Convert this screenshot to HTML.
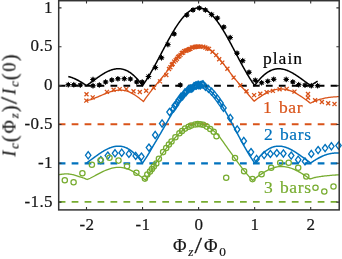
<!DOCTYPE html><html><head><meta charset="utf-8"><title>chart</title><style>
html,body{margin:0;padding:0;background:#fff}body{width:342px;height:259px;position:relative;overflow:hidden;font-family:"Liberation Serif",serif;color:#161616;-webkit-text-stroke:0.2px currentColor}
.t{position:absolute;white-space:nowrap;line-height:1;will-change:transform;font-size:17px;letter-spacing:0.4px}
.yt{text-align:right;width:50px;left:3.2px}
.xt{text-align:center;width:40px}
sub{font-size:0.72em;vertical-align:baseline;position:relative;top:0.27em;line-height:0}
.lb{font-size:17.5px;letter-spacing:0.65px;word-spacing:1.5px}i{font-style:italic}.sl{display:inline-block;transform:scale(1.45,1.3);transform-origin:50% 68%;margin:0 1.2px}.pa{display:inline-block;transform:scale(1.1,1.18);transform-origin:50% 60%}
</style></head><body>
<svg width="342" height="259" viewBox="0 0 342 259" style="position:absolute;left:0;top:0">
<rect x="0" y="0" width="342" height="259" fill="#fff"/>
<defs><clipPath id="c"><rect x="58.7" y="0.7" width="280.5" height="209.2"/></clipPath></defs>
<g clip-path="url(#c)" fill="none" stroke-linejoin="round">
<path d="M58.7 85.75 H339.2" stroke="#000000" stroke-width="1.8" stroke-dasharray="6.75 6.2"/>
<path d="M58.7 124.3 H339.2" stroke="#D95319" stroke-width="1.9" stroke-dasharray="6.75 6.2"/>
<path d="M58.7 163.35 H339.2" stroke="#0072BD" stroke-width="2.3" stroke-dasharray="6.75 6.2"/>
<path d="M58.7 201.9 H339.2" stroke="#77AC30" stroke-width="1.9" stroke-dasharray="6.75 6.2"/>
<path d="M68.30 76.54 L68.80 76.66 L69.30 76.79 L69.80 76.94 L70.30 77.08 L70.80 77.24 L71.30 77.41 L71.80 77.58 L72.30 77.76 L72.80 77.95 L73.30 78.14 L73.80 78.35 L74.30 78.56 L74.80 78.77 L75.30 79.00 L75.80 79.23 L76.30 79.47 L76.80 79.71 L77.30 79.97 L77.80 80.22 L78.30 80.49 L78.80 80.76 L79.30 81.04 L79.80 81.32 L80.30 81.61 L80.80 81.90 L81.30 82.20 L81.80 82.51 L82.30 82.82 L82.80 83.14 L83.30 83.46 L83.80 83.78 L84.30 84.11 L84.80 84.44 L85.30 84.78 L85.80 85.12 L86.30 85.46 L86.50 85.60 L86.80 85.39 L87.30 85.04 L87.80 84.69 L88.30 84.33 L88.80 83.98 L89.30 83.62 L89.80 83.26 L90.30 82.89 L90.80 82.53 L91.30 82.17 L91.80 81.80 L92.30 81.44 L92.80 81.07 L93.30 80.70 L93.80 80.34 L94.30 79.97 L94.80 79.61 L95.30 79.25 L95.80 78.89 L96.30 78.53 L96.80 78.17 L97.30 77.81 L97.80 77.46 L98.30 77.11 L98.80 76.77 L99.30 76.42 L99.80 76.09 L100.30 75.75 L100.80 75.42 L101.30 75.09 L101.80 74.77 L102.30 74.46 L102.80 74.15 L103.30 73.84 L103.80 73.54 L104.30 73.25 L104.80 72.97 L105.30 72.69 L105.80 72.42 L106.30 72.15 L106.80 71.90 L107.30 71.65 L107.80 71.41 L108.30 71.18 L108.80 70.95 L109.30 70.74 L109.80 70.54 L110.30 70.34 L110.80 70.16 L111.30 69.98 L111.80 69.82 L112.30 69.67 L112.80 69.52 L113.30 69.39 L113.80 69.27 L114.30 69.16 L114.80 69.06 L115.30 68.98 L115.80 68.90 L116.30 68.84 L116.80 68.79 L117.30 68.76 L117.80 68.74 L118.30 68.73 L118.80 68.73 L119.30 68.75 L119.80 68.78 L120.30 68.82 L120.80 68.88 L121.30 68.95 L121.80 69.03 L122.30 69.13 L122.80 69.25 L123.30 69.38 L123.80 69.52 L124.30 69.68 L124.80 69.85 L125.30 70.04 L125.80 70.24 L126.30 70.46 L126.80 70.69 L127.30 70.94 L127.80 71.20 L128.30 71.48 L128.80 71.77 L129.30 72.08 L129.80 72.40 L130.30 72.74 L130.80 73.09 L131.30 73.46 L131.80 73.84 L132.30 74.24 L132.80 74.65 L133.30 75.08 L133.80 75.53 L134.30 75.98 L134.80 76.46 L135.30 76.95 L135.80 77.45 L136.30 77.97 L136.80 78.50 L137.30 79.04 L137.80 79.60 L138.30 80.18 L138.80 80.76 L139.30 81.37 L139.80 81.98 L140.30 82.61 L140.80 83.25 L141.30 83.91 L141.80 84.57 L142.30 85.26 L142.55 85.60 L142.80 85.25 L143.30 84.55 L143.80 83.83 L144.30 83.10 L144.80 82.36 L145.30 81.61 L145.80 80.84 L146.30 80.07 L146.80 79.29 L147.30 78.49 L147.80 77.69 L148.30 76.87 L148.80 76.05 L149.30 75.22 L149.80 74.37 L150.30 73.52 L150.80 72.67 L151.30 71.80 L151.80 70.93 L152.30 70.04 L152.80 69.16 L153.30 68.26 L153.80 67.36 L154.30 66.45 L154.80 65.54 L155.30 64.62 L155.80 63.70 L156.30 62.78 L156.80 61.85 L157.30 60.91 L157.80 59.97 L158.30 59.03 L158.80 58.09 L159.30 57.15 L159.80 56.20 L160.30 55.25 L160.80 54.30 L161.30 53.35 L161.80 52.40 L162.30 51.45 L162.80 50.51 L163.30 49.56 L163.80 48.61 L164.30 47.67 L164.80 46.73 L165.30 45.79 L165.80 44.85 L166.30 43.92 L166.80 42.99 L167.30 42.07 L167.80 41.15 L168.30 40.23 L168.80 39.32 L169.30 38.42 L169.80 37.52 L170.30 36.63 L170.80 35.75 L171.30 34.88 L171.80 34.01 L172.30 33.15 L172.80 32.30 L173.30 31.46 L173.80 30.63 L174.30 29.81 L174.80 28.99 L175.30 28.19 L175.80 27.40 L176.30 26.62 L176.80 25.86 L177.30 25.10 L177.80 24.36 L178.30 23.63 L178.80 22.91 L179.30 22.21 L179.80 21.52 L180.30 20.84 L180.80 20.18 L181.30 19.53 L181.80 18.90 L182.30 18.28 L182.80 17.68 L183.30 17.10 L183.80 16.53 L184.30 15.97 L184.80 15.44 L185.30 14.92 L185.80 14.41 L186.30 13.93 L186.80 13.46 L187.30 13.01 L187.80 12.58 L188.30 12.16 L188.80 11.77 L189.30 11.39 L189.80 11.03 L190.30 10.69 L190.80 10.37 L191.30 10.07 L191.80 9.79 L192.30 9.52 L192.80 9.28 L193.30 9.06 L193.80 8.85 L194.30 8.67 L194.80 8.51 L195.30 8.36 L195.80 8.24 L196.30 8.13 L196.80 8.05 L197.30 7.99 L197.80 7.95 L198.30 7.92 L198.80 7.92 L199.30 7.94 L199.80 7.98 L200.30 8.04 L200.80 8.12 L201.30 8.22 L201.80 8.34 L202.30 8.48 L202.80 8.64 L203.30 8.82 L203.80 9.02 L204.30 9.23 L204.80 9.47 L205.30 9.73 L205.80 10.01 L206.30 10.31 L206.80 10.63 L207.30 10.96 L207.80 11.32 L208.30 11.69 L208.80 12.08 L209.30 12.49 L209.80 12.92 L210.30 13.37 L210.80 13.83 L211.30 14.32 L211.80 14.82 L212.30 15.33 L212.80 15.87 L213.30 16.42 L213.80 16.98 L214.30 17.56 L214.80 18.16 L215.30 18.78 L215.80 19.41 L216.30 20.05 L216.80 20.71 L217.30 21.38 L217.80 22.07 L218.30 22.77 L218.80 23.48 L219.30 24.21 L219.80 24.95 L220.30 25.70 L220.80 26.47 L221.30 27.25 L221.80 28.03 L222.30 28.83 L222.80 29.64 L223.30 30.46 L223.80 31.29 L224.30 32.13 L224.80 32.98 L225.30 33.84 L225.80 34.70 L226.30 35.58 L226.80 36.46 L227.30 37.35 L227.80 38.24 L228.30 39.14 L228.80 40.05 L229.30 40.96 L229.80 41.88 L230.30 42.80 L230.80 43.73 L231.30 44.66 L231.80 45.60 L232.30 46.54 L232.80 47.48 L233.30 48.42 L233.80 49.37 L234.30 50.32 L234.80 51.26 L235.30 52.21 L235.80 53.16 L236.30 54.11 L236.80 55.06 L237.30 56.01 L237.80 56.96 L238.30 57.90 L238.80 58.85 L239.30 59.79 L239.80 60.72 L240.30 61.66 L240.80 62.59 L241.30 63.52 L241.80 64.44 L242.30 65.36 L242.80 66.27 L243.30 67.18 L243.80 68.08 L244.30 68.98 L244.80 69.87 L245.30 70.75 L245.80 71.62 L246.30 72.49 L246.80 73.35 L247.30 74.21 L247.80 75.05 L248.30 75.88 L248.80 76.71 L249.30 77.53 L249.80 78.33 L250.30 79.13 L250.80 79.92 L251.30 80.69 L251.80 81.46 L252.30 82.21 L252.80 82.95 L253.30 83.68 L253.80 84.40 L254.30 85.11 L254.65 85.60 L254.80 85.39 L255.30 84.71 L255.80 84.04 L256.30 83.38 L256.80 82.74 L257.30 82.11 L257.80 81.49 L258.30 80.88 L258.80 80.29 L259.30 79.72 L259.80 79.15 L260.30 78.60 L260.80 78.07 L261.30 77.55 L261.80 77.05 L262.30 76.55 L262.80 76.08 L263.30 75.62 L263.80 75.17 L264.30 74.74 L264.80 74.32 L265.30 73.92 L265.80 73.53 L266.30 73.16 L266.80 72.81 L267.30 72.47 L267.80 72.14 L268.30 71.83 L268.80 71.53 L269.30 71.25 L269.80 70.99 L270.30 70.74 L270.80 70.50 L271.30 70.28 L271.80 70.08 L272.30 69.89 L272.80 69.71 L273.30 69.55 L273.80 69.40 L274.30 69.27 L274.80 69.16 L275.30 69.05 L275.80 68.96 L276.30 68.89 L276.80 68.83 L277.30 68.78 L277.80 68.75 L278.30 68.73 L278.80 68.73 L279.30 68.73 L279.80 68.75 L280.30 68.79 L280.80 68.83 L281.30 68.89 L281.80 68.96 L282.30 69.05 L282.80 69.14 L283.30 69.25 L283.80 69.37 L284.30 69.50 L284.80 69.64 L285.30 69.79 L285.80 69.95 L286.30 70.12 L286.80 70.30 L287.30 70.50 L287.80 70.70 L288.30 70.91 L288.80 71.13 L289.30 71.36 L289.80 71.60 L290.30 71.85 L290.80 72.10 L291.30 72.36 L291.80 72.63 L292.30 72.91 L292.80 73.19 L293.30 73.48 L293.80 73.78 L294.30 74.09 L294.80 74.39 L295.30 74.71 L295.80 75.03 L296.30 75.35 L296.80 75.68 L297.30 76.02 L297.80 76.36 L298.30 76.70 L298.80 77.04 L299.30 77.39 L299.80 77.74 L300.30 78.10 L300.80 78.46 L301.30 78.81 L301.80 79.18 L302.30 79.54 L302.80 79.90 L303.30 80.27 L303.80 80.63 L304.30 81.00 L304.80 81.36 L305.30 81.73 L305.80 82.09 L306.30 82.46 L306.80 82.82 L307.30 83.18 L307.80 83.55 L308.30 83.91 L308.80 84.26 L309.30 84.62 L309.80 84.97 L310.30 85.32 L310.70 85.60 L310.80 85.53 L311.30 85.19 L311.80 84.85 L312.30 84.51 L312.80 84.17 L313.30 83.85 L313.80 83.52 L314.30 83.20 L314.80 82.88 L315.30 82.57 L315.80 82.27 L316.30 81.96 L316.80 81.67 L317.30 81.38 L317.60 81.21" stroke="#000000" stroke-width="1.5"/>
<path d="M86.60 100.50 L88.02 100.28 L89.44 99.93 L90.86 99.51 L92.28 99.04 L93.70 98.52 L95.12 97.97 L96.54 97.40 L97.96 96.81 L99.38 96.20 L100.80 95.59 L102.22 94.98 L103.64 94.38 L105.06 93.79 L106.48 93.22 L107.90 92.67 L109.32 92.17 L110.74 91.70 L112.16 91.28 L113.58 90.91 L115.00 90.61 L116.42 90.37 L117.84 90.20 L119.26 90.11 L120.68 90.10 L122.10 90.18 L123.52 90.35 L124.94 90.61 L126.36 90.97 L127.78 91.42 L129.20 91.96 L130.62 92.59 L132.04 93.31 L133.46 94.11 L134.88 95.00 L136.30 95.95 L137.72 96.97 L139.14 98.05 L140.56 99.17 L141.98 100.32 L143.40 101.50 L143.91 100.80 L144.58 99.86 L145.37 98.74 L146.26 97.49 L147.21 96.18 L148.17 94.86 L149.11 93.58 L150.00 92.40 L150.85 91.30 L151.70 90.22 L152.55 89.16 L153.41 88.09 L154.28 87.03 L155.17 85.94 L156.07 84.84 L157.00 83.70 L157.97 82.51 L159.00 81.28 L160.05 80.01 L161.12 78.74 L162.17 77.47 L163.18 76.23 L164.13 75.03 L165.00 73.90 L165.78 72.83 L166.48 71.81 L167.12 70.82 L167.73 69.87 L168.31 68.94 L168.89 68.02 L169.48 67.11 L170.10 66.20 L170.74 65.29 L171.37 64.39 L172.01 63.50 L172.64 62.62 L173.28 61.76 L173.92 60.92 L174.56 60.10 L175.20 59.30 L175.85 58.52 L176.50 57.74 L177.15 56.99 L177.80 56.25 L178.45 55.54 L179.10 54.86 L179.75 54.21 L180.40 53.60 L181.04 53.03 L181.68 52.50 L182.32 52.00 L182.96 51.53 L183.59 51.09 L184.23 50.67 L184.86 50.28 L185.50 49.90 L186.14 49.55 L186.78 49.23 L187.41 48.93 L188.05 48.66 L188.69 48.40 L189.32 48.16 L189.96 47.93 L190.60 47.70 L191.24 47.48 L191.88 47.27 L192.53 47.08 L193.17 46.90 L193.81 46.73 L194.45 46.58 L195.08 46.43 L195.70 46.30 L196.31 46.17 L196.91 46.04 L197.50 45.92 L198.08 45.81 L198.67 45.72 L199.26 45.67 L199.87 45.66 L200.50 45.70 L201.15 45.79 L201.81 45.93 L202.49 46.10 L203.18 46.31 L203.87 46.55 L204.56 46.82 L205.24 47.10 L205.90 47.40 L206.55 47.72 L207.19 48.05 L207.83 48.42 L208.46 48.80 L209.09 49.21 L209.72 49.65 L210.36 50.11 L211.00 50.60 L211.65 51.12 L212.30 51.68 L212.95 52.27 L213.60 52.89 L214.25 53.52 L214.90 54.17 L215.55 54.83 L216.20 55.50 L216.84 56.18 L217.48 56.87 L218.12 57.58 L218.76 58.31 L219.39 59.04 L220.03 59.79 L220.66 60.54 L221.30 61.30 L221.94 62.07 L222.58 62.85 L223.21 63.64 L223.85 64.44 L224.49 65.24 L225.13 66.06 L225.76 66.88 L226.40 67.70 L227.03 68.52 L227.64 69.34 L228.25 70.17 L228.86 71.00 L229.48 71.84 L230.13 72.71 L230.80 73.59 L231.50 74.50 L232.24 75.43 L232.99 76.39 L233.77 77.35 L234.57 78.34 L235.39 79.35 L236.24 80.38 L237.11 81.43 L238.00 82.50 L238.93 83.60 L239.89 84.73 L240.89 85.89 L241.90 87.06 L242.93 88.25 L243.96 89.44 L244.98 90.62 L246.00 91.80 L247.06 93.03 L248.21 94.36 L249.39 95.73 L250.55 97.08 L251.65 98.36 L252.64 99.51 L253.47 100.47 L254.10 101.20 L255.51 100.13 L256.92 99.09 L258.32 98.09 L259.73 97.11 L261.14 96.17 L262.55 95.27 L263.95 94.41 L265.36 93.60 L266.77 92.85 L268.18 92.15 L269.58 91.51 L270.99 90.94 L272.40 90.43 L273.81 90.00 L275.21 89.64 L276.62 89.36 L278.03 89.15 L279.44 89.03 L280.84 88.98 L282.25 89.02 L283.66 89.14 L285.06 89.33 L286.47 89.60 L287.88 89.95 L289.29 90.38 L290.69 90.88 L292.10 91.44 L293.51 92.07 L294.92 92.77 L296.32 93.52 L297.73 94.33 L299.14 95.19 L300.55 96.09 L301.95 97.03 L303.36 98.01 L304.77 99.01 L306.18 100.04 L307.58 101.08 L308.99 102.14 L310.40 103.20 L310.83 102.99 L311.40 102.71 L312.07 102.38 L312.82 102.01 L313.62 101.63 L314.44 101.25 L315.24 100.90 L316.00 100.60 L316.72 100.33 L317.42 100.09 L318.13 99.85 L318.85 99.63 L319.59 99.42 L320.35 99.21 L321.15 99.01 L322.00 98.80 L322.90 98.59 L323.84 98.39 L324.81 98.18 L325.81 97.98 L326.84 97.79 L327.88 97.61 L328.94 97.45 L330.00 97.30 L331.14 97.17 L332.39 97.05 L333.70 96.95 L335.00 96.86 L336.24 96.78 L337.36 96.71 L338.30 96.65 L339.00 96.60" stroke="#D95319" stroke-width="1.3"/>
<path d="M86.20 162.79 L86.50 163.00 L86.70 162.86 L87.20 162.51 L87.70 162.16 L88.20 161.81 L88.70 161.45 L89.20 161.09 L89.70 160.73 L90.20 160.37 L90.70 160.00 L91.20 159.64 L91.70 159.27 L92.20 158.91 L92.70 158.54 L93.20 158.18 L93.70 157.81 L94.20 157.45 L94.70 157.08 L95.20 156.72 L95.70 156.36 L96.20 156.00 L96.70 155.64 L97.20 155.29 L97.70 154.93 L98.20 154.58 L98.70 154.24 L99.20 153.89 L99.70 153.55 L100.20 153.22 L100.70 152.89 L101.20 152.56 L101.70 152.24 L102.20 151.92 L102.70 151.61 L103.20 151.30 L103.70 151.00 L104.20 150.71 L104.70 150.42 L105.20 150.14 L105.70 149.87 L106.20 149.60 L106.70 149.35 L107.20 149.10 L107.70 148.86 L108.20 148.62 L108.70 148.40 L109.20 148.18 L109.70 147.98 L110.20 147.78 L110.70 147.59 L111.20 147.42 L111.70 147.25 L112.20 147.10 L112.70 146.95 L113.20 146.82 L113.70 146.69 L114.20 146.58 L114.70 146.48 L115.20 146.39 L115.70 146.32 L116.20 146.25 L116.70 146.20 L117.20 146.17 L117.70 146.14 L118.20 146.13 L118.70 146.13 L119.20 146.14 L119.70 146.17 L120.20 146.21 L120.70 146.26 L121.20 146.33 L121.70 146.42 L122.20 146.51 L122.70 146.62 L123.20 146.75 L123.70 146.89 L124.20 147.04 L124.70 147.21 L125.20 147.40 L125.70 147.60 L126.20 147.81 L126.70 148.04 L127.20 148.29 L127.70 148.54 L128.20 148.82 L128.70 149.11 L129.20 149.41 L129.70 149.73 L130.20 150.07 L130.70 150.42 L131.20 150.78 L131.70 151.16 L132.20 151.56 L132.70 151.97 L133.20 152.40 L133.70 152.84 L134.20 153.29 L134.70 153.76 L135.20 154.25 L135.70 154.75 L136.20 155.26 L136.70 155.79 L137.20 156.33 L137.70 156.89 L138.20 157.46 L138.70 158.05 L139.20 158.64 L139.70 159.26 L140.20 159.88 L140.70 160.52 L141.20 161.17 L141.70 161.84 L142.20 162.52 L142.55 163.00 L142.70 162.79 L143.20 162.09 L143.70 161.37 L144.20 160.65 L144.70 159.91 L145.20 159.16 L145.70 158.40 L146.20 157.63 L146.70 156.84 L147.20 156.05 L147.70 155.25 L148.20 154.44 L148.70 153.61 L149.20 152.78 L149.70 151.94 L150.20 151.09 L150.70 150.24 L151.20 149.37 L151.70 148.50 L152.20 147.62 L152.70 146.73 L153.20 145.84 L153.70 144.94 L154.25 144.04 L154.80 143.12 L155.36 142.21 L155.91 141.29 L156.46 140.36 L157.02 139.43 L157.57 138.50 L158.12 137.56 L158.67 136.62 L159.22 135.68 L159.77 134.73 L160.32 133.79 L160.87 132.84 L161.42 131.89 L161.97 130.94 L162.52 129.99 L163.06 129.04 L163.61 128.10 L164.15 127.15 L164.70 126.20 L165.24 125.26 L165.78 124.31 L166.32 123.37 L166.85 122.44 L167.39 121.50 L167.93 120.58 L168.46 119.65 L168.99 118.73 L169.52 117.81 L170.05 116.90 L170.58 116.00 L171.11 115.10 L171.63 114.21 L172.16 113.33 L172.68 112.45 L173.20 111.58 L173.72 110.72 L174.23 109.87 L174.75 109.03 L175.26 108.19 L175.77 107.37 L176.28 106.56 L176.79 105.75 L177.29 104.96 L177.80 104.18 L178.30 103.41 L178.80 102.65 L179.30 101.91 L179.79 101.17 L180.29 100.45 L180.78 99.75 L181.27 99.06 L181.76 98.38 L182.25 97.71 L182.74 97.06 L183.22 96.43 L183.70 95.81 L184.18 95.20 L184.66 94.61 L185.14 94.04 L185.62 93.48 L186.09 92.94 L186.56 92.42 L187.03 91.91 L187.50 91.42 L187.97 90.95 L188.44 90.50 L188.90 90.06 L189.37 89.65 L189.83 89.25 L190.29 88.86 L190.75 88.50 L191.21 88.16 L191.66 87.83 L192.12 87.53 L192.58 87.24 L193.03 86.98 L193.48 86.73 L193.94 86.50 L194.39 86.29 L194.84 86.11 L195.29 85.94 L195.74 85.79 L196.19 85.66 L196.64 85.55 L197.08 85.47 L197.53 85.40 L197.98 85.35 L198.42 85.33 L198.87 85.32 L199.32 85.33 L199.76 85.37 L200.21 85.42 L200.70 85.50 L201.20 85.59 L201.70 85.71 L202.20 85.85 L202.70 86.00 L203.20 86.18 L203.70 86.37 L204.20 86.59 L204.70 86.82 L205.20 87.08 L205.70 87.35 L206.20 87.65 L206.70 87.96 L207.20 88.29 L207.70 88.64 L208.20 89.01 L208.70 89.40 L209.20 89.81 L209.70 90.24 L210.20 90.68 L210.70 91.14 L211.20 91.62 L211.70 92.11 L212.20 92.63 L212.70 93.16 L213.20 93.70 L213.70 94.27 L214.20 94.85 L214.70 95.44 L215.20 96.05 L215.70 96.68 L216.20 97.32 L216.70 97.98 L217.20 98.65 L217.70 99.33 L218.20 100.03 L218.70 100.74 L219.20 101.47 L219.70 102.20 L220.20 102.95 L220.70 103.72 L221.20 104.49 L221.70 105.28 L222.20 106.07 L222.70 106.88 L223.20 107.70 L223.70 108.52 L224.20 109.36 L224.70 110.21 L225.20 111.06 L225.70 111.93 L226.20 112.80 L226.70 113.68 L227.20 114.57 L227.70 115.46 L228.20 116.36 L228.70 117.27 L229.20 118.18 L229.70 119.10 L230.20 120.02 L230.70 120.95 L231.20 121.88 L231.70 122.81 L232.20 123.75 L232.70 124.69 L233.20 125.63 L233.70 126.58 L234.20 127.53 L234.70 128.47 L235.20 129.42 L235.70 130.37 L236.20 131.32 L236.70 132.27 L237.20 133.22 L237.70 134.17 L238.20 135.11 L238.70 136.06 L239.20 137.00 L239.70 137.94 L240.20 138.87 L240.70 139.80 L241.20 140.73 L241.70 141.66 L242.20 142.58 L242.70 143.49 L243.20 144.40 L243.70 145.30 L244.20 146.20 L244.70 147.09 L245.20 147.97 L245.70 148.85 L246.20 149.72 L246.70 150.58 L247.20 151.44 L247.70 152.28 L248.20 153.12 L248.70 153.94 L249.20 154.76 L249.70 155.57 L250.20 156.37 L250.70 157.16 L251.20 157.94 L251.70 158.70 L252.20 159.46 L252.70 160.21 L253.20 160.94 L253.70 161.66 L254.20 162.37 L254.65 163.00 L254.70 162.93 L255.20 162.25 L255.70 161.57 L256.20 160.91 L256.70 160.27 L257.20 159.63 L257.70 159.01 L258.20 158.40 L258.70 157.81 L259.20 157.23 L259.70 156.67 L260.20 156.11 L260.70 155.58 L261.20 155.05 L261.70 154.55 L262.20 154.05 L262.70 153.57 L263.20 153.11 L263.70 152.66 L264.20 152.22 L264.70 151.80 L265.20 151.40 L265.70 151.01 L266.20 150.64 L266.70 150.28 L267.20 149.93 L267.70 149.60 L268.20 149.29 L268.70 148.99 L269.20 148.71 L269.70 148.44 L270.20 148.19 L270.70 147.95 L271.20 147.72 L271.70 147.52 L272.20 147.32 L272.70 147.14 L273.20 146.98 L273.70 146.83 L274.20 146.70 L274.70 146.58 L275.20 146.47 L275.70 146.38 L276.20 146.30 L276.70 146.24 L277.20 146.19 L277.70 146.16 L278.20 146.13 L278.70 146.13 L279.20 146.13 L279.70 146.15 L280.20 146.18 L280.70 146.22 L281.20 146.28 L281.70 146.35 L282.20 146.43 L282.70 146.52 L283.20 146.63 L283.70 146.74 L284.20 146.87 L284.70 147.01 L285.20 147.16 L285.70 147.32 L286.20 147.49 L286.70 147.67 L287.20 147.86 L287.70 148.06 L288.20 148.27 L288.70 148.49 L289.20 148.71 L289.70 148.95 L290.20 149.20 L290.70 149.45 L291.20 149.71 L291.70 149.98 L292.20 150.25 L292.70 150.54 L293.20 150.83 L293.70 151.12 L294.20 151.42 L294.70 151.73 L295.20 152.05 L295.70 152.36 L296.20 152.69 L296.70 153.02 L297.20 153.35 L297.70 153.69 L298.20 154.03 L298.70 154.37 L299.20 154.72 L299.70 155.07 L300.20 155.43 L300.70 155.78 L301.20 156.14 L301.70 156.50 L302.20 156.87 L302.70 157.23 L303.20 157.59 L303.70 157.96 L304.20 158.32 L304.70 158.69 L305.20 159.06 L305.70 159.42 L306.20 159.79 L306.70 160.15 L307.20 160.51 L307.70 160.87 L308.20 161.23 L308.70 161.59 L309.20 161.95 L309.70 162.30 L310.20 162.65 L310.70 163.00 L310.70 163.00 L311.20 162.66 L311.70 162.31 L312.20 161.98 L312.70 161.64 L313.20 161.31 L313.70 160.98 L314.20 160.66 L314.70 160.35 L315.20 160.03 L315.70 159.73 L316.20 159.42 L316.70 159.13 L317.20 158.84 L317.70 158.55 L318.20 158.27 L318.70 158.00 L319.20 157.73 L319.70 157.47 L320.20 157.21 L320.70 156.97 L321.20 156.72 L321.70 156.49 L322.20 156.26 L322.70 156.04 L323.20 155.83 L323.70 155.62 L324.20 155.42 L324.70 155.23 L325.20 155.05 L325.70 154.87 L326.20 154.71 L326.70 154.55 L327.20 154.39 L327.70 154.25 L328.20 154.11 L328.70 153.99 L329.20 153.86 L329.70 153.75 L330.20 153.65 L330.70 153.55 L331.20 153.46 L331.70 153.38 L332.20 153.31 L332.70 153.25 L333.20 153.19 L333.70 153.15 L334.20 153.11 L334.70 153.08 L335.20 153.05 L335.70 153.04 L336.20 153.03 L336.70 153.03 L337.20 153.04 L337.70 153.05 L338.20 153.08 L338.70 153.11 L339.00 153.13" stroke="#0072BD" stroke-width="1.5"/>
<path d="M58.70 174.70 L59.03 174.65 L59.47 174.58 L60.00 174.50 L60.58 174.41 L61.20 174.32 L61.82 174.24 L62.43 174.16 L63.00 174.10 L63.53 174.05 L64.04 174.00 L64.55 173.95 L65.06 173.91 L65.58 173.88 L66.13 173.87 L66.70 173.87 L67.30 173.90 L67.94 173.94 L68.62 174.00 L69.32 174.08 L70.04 174.17 L70.78 174.28 L71.52 174.40 L72.26 174.54 L73.00 174.70 L73.75 174.89 L74.51 175.11 L75.29 175.35 L76.08 175.61 L76.85 175.88 L77.60 176.13 L78.32 176.38 L79.00 176.60 L79.64 176.80 L80.25 176.98 L80.83 177.16 L81.39 177.33 L81.94 177.49 L82.47 177.65 L82.99 177.82 L83.50 178.00 L84.03 178.19 L84.57 178.40 L85.11 178.62 L85.63 178.84 L86.12 179.04 L86.55 179.23 L86.92 179.38 L87.20 179.50 L88.66 178.94 L90.12 178.25 L91.57 177.52 L93.03 176.75 L94.49 175.97 L95.95 175.19 L97.40 174.40 L98.86 173.62 L100.32 172.86 L101.78 172.12 L103.23 171.42 L104.69 170.75 L106.15 170.12 L107.61 169.54 L109.06 169.02 L110.52 168.56 L111.98 168.16 L113.44 167.83 L114.89 167.58 L116.35 167.41 L117.81 167.31 L119.27 167.30 L120.72 167.38 L122.18 167.54 L123.64 167.79 L125.09 168.13 L126.55 168.55 L128.01 169.06 L129.47 169.65 L130.93 170.32 L132.38 171.07 L133.84 171.88 L135.30 172.76 L136.75 173.70 L138.21 174.70 L139.67 175.74 L141.13 176.82 L142.59 177.93 L144.04 179.06 L145.50 180.20 L145.92 179.50 L146.46 178.57 L147.12 177.47 L147.84 176.24 L148.62 174.93 L149.43 173.59 L150.23 172.26 L151.00 171.00 L151.75 169.79 L152.50 168.57 L153.26 167.35 L154.04 166.11 L154.85 164.84 L155.69 163.54 L156.57 162.19 L157.50 160.80 L158.49 159.33 L159.54 157.79 L160.63 156.19 L161.76 154.57 L162.90 152.94 L164.05 151.34 L165.18 149.78 L166.30 148.30 L167.43 146.85 L168.59 145.41 L169.77 143.97 L170.94 142.58 L172.09 141.25 L173.17 139.99 L174.19 138.84 L175.10 137.80 L175.89 136.91 L176.58 136.15 L177.19 135.50 L177.75 134.93 L178.28 134.40 L178.82 133.89 L179.38 133.36 L180.00 132.80 L180.67 132.20 L181.36 131.60 L182.06 131.01 L182.77 130.42 L183.48 129.85 L184.20 129.30 L184.90 128.78 L185.60 128.30 L186.27 127.85 L186.93 127.43 L187.57 127.04 L188.22 126.68 L188.87 126.33 L189.55 126.00 L190.25 125.69 L191.00 125.40 L191.80 125.11 L192.64 124.82 L193.51 124.54 L194.41 124.29 L195.31 124.07 L196.20 123.89 L197.07 123.76 L197.90 123.70 L198.70 123.71 L199.48 123.77 L200.24 123.88 L200.99 124.04 L201.74 124.23 L202.49 124.46 L203.24 124.72 L204.00 125.00 L204.78 125.32 L205.59 125.68 L206.40 126.09 L207.21 126.53 L208.01 126.97 L208.78 127.43 L209.52 127.87 L210.20 128.30 L210.83 128.70 L211.41 129.10 L211.95 129.49 L212.46 129.88 L212.96 130.28 L213.46 130.70 L213.97 131.13 L214.50 131.60 L215.02 132.04 L215.49 132.44 L215.95 132.82 L216.42 133.24 L216.92 133.72 L217.49 134.32 L218.14 135.06 L218.90 136.00 L219.79 137.16 L220.79 138.52 L221.88 140.03 L223.02 141.66 L224.21 143.34 L225.40 145.04 L226.57 146.71 L227.70 148.30 L228.80 149.84 L229.90 151.39 L231.00 152.94 L232.10 154.49 L233.20 156.04 L234.30 157.57 L235.40 159.10 L236.50 160.60 L237.61 162.11 L238.74 163.63 L239.87 165.15 L240.99 166.66 L242.11 168.13 L243.21 169.56 L244.27 170.92 L245.30 172.20 L246.33 173.44 L247.40 174.68 L248.47 175.88 L249.50 177.02 L250.46 178.07 L251.32 179.01 L252.05 179.79 L252.60 180.40 L254.03 179.29 L255.47 178.20 L256.90 177.13 L258.34 176.09 L259.77 175.07 L261.21 174.09 L262.64 173.15 L264.08 172.25 L265.51 171.40 L266.95 170.61 L268.38 169.88 L269.82 169.21 L271.25 168.61 L272.69 168.08 L274.12 167.62 L275.56 167.24 L277.00 166.93 L278.43 166.71 L279.87 166.56 L281.30 166.50 L282.74 166.51 L284.17 166.61 L285.61 166.79 L287.04 167.04 L288.48 167.37 L289.91 167.78 L291.35 168.25 L292.78 168.80 L294.21 169.41 L295.65 170.08 L297.08 170.80 L298.52 171.58 L299.95 172.40 L301.39 173.27 L302.82 174.17 L304.26 175.10 L305.69 176.05 L307.13 177.02 L308.56 178.01 L310.00 179.00 L310.38 178.88 L310.87 178.72 L311.45 178.53 L312.10 178.32 L312.80 178.10 L313.53 177.88 L314.27 177.68 L315.00 177.50 L315.71 177.34 L316.42 177.20 L317.14 177.06 L317.89 176.92 L318.67 176.79 L319.51 176.67 L320.42 176.53 L321.40 176.40 L322.49 176.26 L323.70 176.11 L324.99 175.96 L326.32 175.81 L327.67 175.67 L328.98 175.53 L330.24 175.41 L331.40 175.30 L332.52 175.21 L333.65 175.12 L334.76 175.05 L335.82 174.98 L336.81 174.92 L337.69 174.88 L338.43 174.83 L339.00 174.80" stroke="#77AC30" stroke-width="1.3"/>
</g><g fill="none" stroke-linejoin="round">
<path d="M84.5 92.2l4.0 4.0M84.5 96.2l4.0 -4.0M84.3 98.6l4.0 4.0M84.3 102.6l4.0 -4.0M90.7 95.4l4.0 4.0M90.7 99.4l4.0 -4.0M104.9 89.9l4.0 4.0M104.9 93.9l4.0 -4.0M111.6 87.7l4.0 4.0M111.6 91.7l4.0 -4.0M117.7 87.1l4.0 4.0M117.7 91.1l4.0 -4.0M124.3 87.1l4.0 4.0M124.3 91.1l4.0 -4.0M131.5 89.3l4.0 4.0M131.5 93.3l4.0 -4.0M137.8 90.0l4.0 4.0M137.8 94.0l4.0 -4.0M144.2 88.7l4.0 4.0M144.2 92.7l4.0 -4.0M151.6 85.7l4.0 4.0M151.6 89.7l4.0 -4.0M158.0 79.4l4.0 4.0M158.0 83.4l4.0 -4.0M164.3 73.0l4.0 4.0M164.3 77.0l4.0 -4.0M167.0 67.0l4.0 4.0M167.0 71.0l4.0 -4.0M168.4 65.2l4.0 4.0M168.4 69.2l4.0 -4.0M169.8 62.8l4.0 4.0M169.8 66.8l4.0 -4.0M170.7 61.9l4.0 4.0M170.7 65.9l4.0 -4.0M172.1 59.6l4.0 4.0M172.1 63.6l4.0 -4.0M173.7 58.2l4.0 4.0M173.7 62.2l4.0 -4.0M174.9 56.7l4.0 4.0M174.9 60.7l4.0 -4.0M176.0 54.9l4.0 4.0M176.0 58.9l4.0 -4.0M177.3 54.3l4.0 4.0M177.3 58.3l4.0 -4.0M178.5 52.9l4.0 4.0M178.5 56.9l4.0 -4.0M179.8 51.0l4.0 4.0M179.8 55.0l4.0 -4.0M181.1 50.6l4.0 4.0M181.1 54.6l4.0 -4.0M182.1 49.1l4.0 4.0M182.1 53.1l4.0 -4.0M183.7 48.8l4.0 4.0M183.7 52.8l4.0 -4.0M184.8 48.4l4.0 4.0M184.8 52.4l4.0 -4.0M186.1 47.9l4.0 4.0M186.1 51.9l4.0 -4.0M187.1 47.2l4.0 4.0M187.1 51.2l4.0 -4.0M188.4 46.9l4.0 4.0M188.4 50.9l4.0 -4.0M189.9 45.6l4.0 4.0M189.9 49.6l4.0 -4.0M190.7 45.4l4.0 4.0M190.7 49.4l4.0 -4.0M192.5 45.2l4.0 4.0M192.5 49.2l4.0 -4.0M193.5 44.8l4.0 4.0M193.5 48.8l4.0 -4.0M194.7 44.6l4.0 4.0M194.7 48.6l4.0 -4.0M195.9 44.5l4.0 4.0M195.9 48.5l4.0 -4.0M197.3 44.6l4.0 4.0M197.3 48.6l4.0 -4.0M198.6 44.6l4.0 4.0M198.6 48.6l4.0 -4.0M201.3 44.8l4.0 4.0M201.3 48.8l4.0 -4.0M203.3 45.5l4.0 4.0M203.3 49.5l4.0 -4.0M205.3 46.5l4.0 4.0M205.3 50.5l4.0 -4.0M207.0 46.9l4.0 4.0M207.0 50.9l4.0 -4.0M210.5 49.8l4.0 4.0M210.5 53.8l4.0 -4.0M214.2 53.1l4.0 4.0M214.2 57.1l4.0 -4.0M217.2 57.2l4.0 4.0M217.2 61.2l4.0 -4.0M220.3 60.6l4.0 4.0M220.3 64.6l4.0 -4.0M225.4 66.8l4.0 4.0M225.4 70.8l4.0 -4.0M231.6 75.6l4.0 4.0M231.6 79.6l4.0 -4.0M238.3 83.2l4.0 4.0M238.3 87.2l4.0 -4.0M244.5 89.3l4.0 4.0M244.5 93.3l4.0 -4.0M252.1 93.1l4.0 4.0M252.1 97.1l4.0 -4.0M258.3 91.8l4.0 4.0M258.3 95.8l4.0 -4.0M264.6 90.1l4.0 4.0M264.6 94.1l4.0 -4.0M270.9 88.9l4.0 4.0M270.9 92.9l4.0 -4.0M277.6 87.2l4.0 4.0M277.6 91.2l4.0 -4.0M284.7 86.9l4.0 4.0M284.7 90.9l4.0 -4.0M292.5 89.6l4.0 4.0M292.5 93.6l4.0 -4.0M306.0 92.0l4.0 4.0M306.0 96.0l4.0 -4.0M306.0 95.7l4.0 4.0M306.0 99.7l4.0 -4.0M313.1 98.3l4.0 4.0M313.1 102.3l4.0 -4.0M319.9 100.0l4.0 4.0M319.9 104.0l4.0 -4.0M326.2 101.3l4.0 4.0M326.2 105.3l4.0 -4.0M332.5 102.0l4.0 4.0M332.5 106.0l4.0 -4.0" stroke="#D95319" stroke-width="1.3"/>
<path d="M88.2 151.7l2.7 3.6l-2.7 3.6l-2.7 -3.6zM100.8 156.5l2.7 3.6l-2.7 3.6l-2.7 -3.6zM107.8 152.0l2.7 3.6l-2.7 3.6l-2.7 -3.6zM115.0 149.7l2.7 3.6l-2.7 3.6l-2.7 -3.6zM121.7 149.1l2.7 3.6l-2.7 3.6l-2.7 -3.6zM128.9 150.3l2.7 3.6l-2.7 3.6l-2.7 -3.6zM135.7 152.3l2.7 3.6l-2.7 3.6l-2.7 -3.6zM141.4 153.0l2.7 3.6l-2.7 3.6l-2.7 -3.6zM148.9 144.0l2.7 3.6l-2.7 3.6l-2.7 -3.6zM155.2 131.4l2.7 3.6l-2.7 3.6l-2.7 -3.6zM162.1 119.9l2.7 3.6l-2.7 3.6l-2.7 -3.6zM169.5 108.4l2.7 3.6l-2.7 3.6l-2.7 -3.6zM173.5 105.0l2.7 3.6l-2.7 3.6l-2.7 -3.6zM174.7 102.0l2.7 3.6l-2.7 3.6l-2.7 -3.6zM176.1 101.1l2.7 3.6l-2.7 3.6l-2.7 -3.6zM177.4 98.7l2.7 3.6l-2.7 3.6l-2.7 -3.6zM178.6 96.5l2.7 3.6l-2.7 3.6l-2.7 -3.6zM180.0 95.3l2.7 3.6l-2.7 3.6l-2.7 -3.6zM181.0 93.1l2.7 3.6l-2.7 3.6l-2.7 -3.6zM182.6 92.7l2.7 3.6l-2.7 3.6l-2.7 -3.6zM183.5 91.1l2.7 3.6l-2.7 3.6l-2.7 -3.6zM184.9 88.9l2.7 3.6l-2.7 3.6l-2.7 -3.6zM186.2 88.4l2.7 3.6l-2.7 3.6l-2.7 -3.6zM187.8 86.4l2.7 3.6l-2.7 3.6l-2.7 -3.6zM189.0 85.5l2.7 3.6l-2.7 3.6l-2.7 -3.6zM190.3 85.0l2.7 3.6l-2.7 3.6l-2.7 -3.6zM191.7 85.0l2.7 3.6l-2.7 3.6l-2.7 -3.6zM192.8 84.3l2.7 3.6l-2.7 3.6l-2.7 -3.6zM194.0 82.6l2.7 3.6l-2.7 3.6l-2.7 -3.6zM195.5 82.0l2.7 3.6l-2.7 3.6l-2.7 -3.6zM196.5 81.9l2.7 3.6l-2.7 3.6l-2.7 -3.6zM198.1 81.2l2.7 3.6l-2.7 3.6l-2.7 -3.6zM199.0 81.7l2.7 3.6l-2.7 3.6l-2.7 -3.6zM200.5 81.6l2.7 3.6l-2.7 3.6l-2.7 -3.6zM202.1 80.8l2.7 3.6l-2.7 3.6l-2.7 -3.6zM203.2 80.9l2.7 3.6l-2.7 3.6l-2.7 -3.6zM205.5 83.3l2.7 3.6l-2.7 3.6l-2.7 -3.6zM208.5 85.3l2.7 3.6l-2.7 3.6l-2.7 -3.6zM211.5 88.0l2.7 3.6l-2.7 3.6l-2.7 -3.6zM214.5 91.3l2.7 3.6l-2.7 3.6l-2.7 -3.6zM217.5 95.2l2.7 3.6l-2.7 3.6l-2.7 -3.6zM220.5 99.5l2.7 3.6l-2.7 3.6l-2.7 -3.6zM223.5 104.3l2.7 3.6l-2.7 3.6l-2.7 -3.6zM230.3 114.4l2.7 3.6l-2.7 3.6l-2.7 -3.6zM237.2 125.9l2.7 3.6l-2.7 3.6l-2.7 -3.6zM243.8 137.4l2.7 3.6l-2.7 3.6l-2.7 -3.6zM251.0 148.5l2.7 3.6l-2.7 3.6l-2.7 -3.6zM256.6 155.3l2.7 3.6l-2.7 3.6l-2.7 -3.6zM264.1 151.5l2.7 3.6l-2.7 3.6l-2.7 -3.6zM270.4 150.3l2.7 3.6l-2.7 3.6l-2.7 -3.6zM276.8 149.5l2.7 3.6l-2.7 3.6l-2.7 -3.6zM283.4 149.9l2.7 3.6l-2.7 3.6l-2.7 -3.6zM291.2 152.0l2.7 3.6l-2.7 3.6l-2.7 -3.6zM298.2 156.1l2.7 3.6l-2.7 3.6l-2.7 -3.6zM305.0 157.8l2.7 3.6l-2.7 3.6l-2.7 -3.6zM311.3 150.3l2.7 3.6l-2.7 3.6l-2.7 -3.6zM318.1 146.5l2.7 3.6l-2.7 3.6l-2.7 -3.6zM325.1 144.5l2.7 3.6l-2.7 3.6l-2.7 -3.6zM331.4 142.7l2.7 3.6l-2.7 3.6l-2.7 -3.6zM338.5 142.0l2.7 3.6l-2.7 3.6l-2.7 -3.6z" stroke="#0072BD" stroke-width="1.3" stroke-linejoin="miter"/>
<circle cx="64.8" cy="180.3" r="2.65" stroke="#77AC30" stroke-width="1.25"/>
<circle cx="73.6" cy="182.3" r="2.65" stroke="#77AC30" stroke-width="1.25"/>
<circle cx="82.4" cy="173.2" r="2.65" stroke="#77AC30" stroke-width="1.25"/>
<circle cx="91.9" cy="164.8" r="2.65" stroke="#77AC30" stroke-width="1.25"/>
<circle cx="100.6" cy="160.2" r="2.65" stroke="#77AC30" stroke-width="1.25"/>
<circle cx="109.5" cy="157.8" r="2.65" stroke="#77AC30" stroke-width="1.25"/>
<circle cx="118.5" cy="160.6" r="2.65" stroke="#77AC30" stroke-width="1.25"/>
<circle cx="127.0" cy="166.2" r="2.65" stroke="#77AC30" stroke-width="1.25"/>
<circle cx="136.4" cy="172.7" r="2.65" stroke="#77AC30" stroke-width="1.25"/>
<circle cx="144.9" cy="178.6" r="2.65" stroke="#77AC30" stroke-width="1.25"/>
<circle cx="147.3" cy="174.4" r="2.65" stroke="#77AC30" stroke-width="1.25"/>
<circle cx="150.0" cy="171.6" r="2.65" stroke="#77AC30" stroke-width="1.25"/>
<circle cx="151.9" cy="169.0" r="2.65" stroke="#77AC30" stroke-width="1.25"/>
<circle cx="153.8" cy="166.4" r="2.65" stroke="#77AC30" stroke-width="1.25"/>
<circle cx="156.3" cy="163.5" r="2.65" stroke="#77AC30" stroke-width="1.25"/>
<circle cx="158.9" cy="158.7" r="2.65" stroke="#77AC30" stroke-width="1.25"/>
<circle cx="163.1" cy="152.1" r="2.65" stroke="#77AC30" stroke-width="1.25"/>
<circle cx="166.2" cy="148.0" r="2.65" stroke="#77AC30" stroke-width="1.25"/>
<circle cx="168.9" cy="144.4" r="2.65" stroke="#77AC30" stroke-width="1.25"/>
<circle cx="171.5" cy="141.4" r="2.65" stroke="#77AC30" stroke-width="1.25"/>
<circle cx="175.4" cy="137.3" r="2.65" stroke="#77AC30" stroke-width="1.25"/>
<circle cx="179.4" cy="133.3" r="2.65" stroke="#77AC30" stroke-width="1.25"/>
<circle cx="182.0" cy="130.9" r="2.65" stroke="#77AC30" stroke-width="1.25"/>
<circle cx="185.1" cy="128.6" r="2.65" stroke="#77AC30" stroke-width="1.25"/>
<circle cx="188.6" cy="126.8" r="2.65" stroke="#77AC30" stroke-width="1.25"/>
<circle cx="191.2" cy="125.6" r="2.65" stroke="#77AC30" stroke-width="1.25"/>
<circle cx="195.1" cy="124.4" r="2.65" stroke="#77AC30" stroke-width="1.25"/>
<circle cx="197.7" cy="124.1" r="2.65" stroke="#77AC30" stroke-width="1.25"/>
<circle cx="200.4" cy="124.2" r="2.65" stroke="#77AC30" stroke-width="1.25"/>
<circle cx="203.2" cy="124.8" r="2.65" stroke="#77AC30" stroke-width="1.25"/>
<circle cx="206.7" cy="126.6" r="2.65" stroke="#77AC30" stroke-width="1.25"/>
<circle cx="210.2" cy="129.0" r="2.65" stroke="#77AC30" stroke-width="1.25"/>
<circle cx="213.7" cy="131.8" r="2.65" stroke="#77AC30" stroke-width="1.25"/>
<circle cx="216.5" cy="136.3" r="2.65" stroke="#77AC30" stroke-width="1.25"/>
<circle cx="226.2" cy="177.8" r="2.65" stroke="#77AC30" stroke-width="1.25"/>
<circle cx="235.0" cy="158.0" r="2.65" stroke="#77AC30" stroke-width="1.25"/>
<circle cx="244.1" cy="171.3" r="2.65" stroke="#77AC30" stroke-width="1.25"/>
<circle cx="252.5" cy="179.1" r="2.65" stroke="#77AC30" stroke-width="1.25"/>
<circle cx="261.6" cy="174.3" r="2.65" stroke="#77AC30" stroke-width="1.25"/>
<circle cx="271.2" cy="167.7" r="2.65" stroke="#77AC30" stroke-width="1.25"/>
<circle cx="280.2" cy="162.7" r="2.65" stroke="#77AC30" stroke-width="1.25"/>
<circle cx="288.7" cy="162.7" r="2.65" stroke="#77AC30" stroke-width="1.25"/>
<circle cx="298.2" cy="167.7" r="2.65" stroke="#77AC30" stroke-width="1.25"/>
<circle cx="306.3" cy="176.5" r="2.65" stroke="#77AC30" stroke-width="1.25"/>
<circle cx="315.5" cy="187.8" r="2.65" stroke="#77AC30" stroke-width="1.25"/>
<circle cx="324.3" cy="191.4" r="2.65" stroke="#77AC30" stroke-width="1.25"/>
<circle cx="333.5" cy="186.5" r="2.65" stroke="#77AC30" stroke-width="1.25"/>
<path d="M68.3 81.9v5.6M65.5 84.7h5.6M66.3 82.7l4.0 4.0M66.3 86.7l4.0 -4.0M73.8 81.9v5.6M71.0 84.7h5.6M71.8 82.7l4.0 4.0M71.8 86.7l4.0 -4.0M80.3 82.3v5.6M77.5 85.1h5.6M78.3 83.1l4.0 4.0M78.3 87.1l4.0 -4.0M93.0 76.7v5.6M90.2 79.5h5.6M91.0 77.5l4.0 4.0M91.0 81.5l4.0 -4.0M93.0 83.0v5.6M90.2 85.8h5.6M91.0 83.8l4.0 4.0M91.0 87.8l4.0 -4.0M99.3 82.2v5.6M96.5 85.0h5.6M97.3 83.0l4.0 4.0M97.3 87.0l4.0 -4.0M105.6 79.2v5.6M102.8 82.0h5.6M103.6 80.0l4.0 4.0M103.6 84.0l4.0 -4.0M111.8 77.2v5.6M109.0 80.0h5.6M109.8 78.0l4.0 4.0M109.8 82.0l4.0 -4.0M117.9 76.0v5.6M115.1 78.8h5.6M115.9 76.8l4.0 4.0M115.9 80.8l4.0 -4.0M124.3 75.9v5.6M121.5 78.7h5.6M122.3 76.7l4.0 4.0M122.3 80.7l4.0 -4.0M130.4 76.2v5.6M127.6 79.0h5.6M128.4 77.0l4.0 4.0M128.4 81.0l4.0 -4.0M136.7 79.2v5.6M133.9 82.0h5.6M134.7 80.0l4.0 4.0M134.7 84.0l4.0 -4.0M142.2 79.2v5.6M139.4 82.0h5.6M140.2 80.0l4.0 4.0M140.2 84.0l4.0 -4.0M148.5 73.7v5.6M145.7 76.5h5.6M146.5 74.5l4.0 4.0M146.5 78.5l4.0 -4.0M155.4 64.8v5.6M152.6 67.6h5.6M153.4 65.6l4.0 4.0M153.4 69.6l4.0 -4.0M161.5 55.0v5.6M158.7 57.8h5.6M159.5 55.8l4.0 4.0M159.5 59.8l4.0 -4.0M167.9 41.8v5.6M165.1 44.6h5.6M165.9 42.6l4.0 4.0M165.9 46.6l4.0 -4.0M174.2 31.1v5.6M171.4 33.9h5.6M172.2 31.9l4.0 4.0M172.2 35.9l4.0 -4.0M180.3 82.2v5.6M177.5 85.0h5.6M178.3 83.0l4.0 4.0M178.3 87.0l4.0 -4.0M186.8 12.3v5.6M184.0 15.1h5.6M184.8 13.1l4.0 4.0M184.8 17.1l4.0 -4.0M193.0 7.2v5.6M190.2 10.0h5.6M191.0 8.0l4.0 4.0M191.0 12.0l4.0 -4.0M199.3 5.2v5.6M196.5 8.0h5.6M197.3 6.0l4.0 4.0M197.3 10.0l4.0 -4.0M205.4 7.2v5.6M202.6 10.0h5.6M203.4 8.0l4.0 4.0M203.4 12.0l4.0 -4.0M211.6 11.8v5.6M208.8 14.6h5.6M209.6 12.6l4.0 4.0M209.6 16.6l4.0 -4.0M217.4 15.3v5.6M214.6 18.1h5.6M215.4 16.1l4.0 4.0M215.4 20.1l4.0 -4.0M223.8 24.3v5.6M221.0 27.1h5.6M221.8 25.1l4.0 4.0M221.8 29.1l4.0 -4.0M230.2 34.8v5.6M227.4 37.6h5.6M228.2 35.6l4.0 4.0M228.2 39.6l4.0 -4.0M237.0 50.4v5.6M234.2 53.2h5.6M235.0 51.2l4.0 4.0M235.0 55.2l4.0 -4.0M242.7 57.9v5.6M239.9 60.7h5.6M240.7 58.7l4.0 4.0M240.7 62.7l4.0 -4.0M249.0 69.5v5.6M246.2 72.3h5.6M247.0 70.3l4.0 4.0M247.0 74.3l4.0 -4.0M255.3 77.5v5.6M252.5 80.3h5.6M253.3 78.3l4.0 4.0M253.3 82.3l4.0 -4.0M261.6 80.0v5.6M258.8 82.8h5.6M259.6 80.8l4.0 4.0M259.6 84.8l4.0 -4.0M267.8 78.5v5.6M265.0 81.3h5.6M265.8 79.3l4.0 4.0M265.8 83.3l4.0 -4.0M273.7 76.5v5.6M270.9 79.3h5.6M271.7 77.3l4.0 4.0M271.7 81.3l4.0 -4.0M286.2 76.6v5.6M283.4 79.4h5.6M284.2 77.4l4.0 4.0M284.2 81.4l4.0 -4.0M292.8 79.1v5.6M290.0 81.9h5.6M290.8 79.9l4.0 4.0M290.8 83.9l4.0 -4.0M298.7 81.9v5.6M295.9 84.7h5.6M296.7 82.7l4.0 4.0M296.7 86.7l4.0 -4.0M305.0 82.4v5.6M302.2 85.2h5.6M303.0 83.2l4.0 4.0M303.0 87.2l4.0 -4.0M311.3 82.9v5.6M308.5 85.7h5.6M309.3 83.7l4.0 4.0M309.3 87.7l4.0 -4.0M317.6 82.9v5.6M314.8 85.7h5.6M315.6 83.7l4.0 4.0M315.6 87.7l4.0 -4.0" stroke="#000000" stroke-width="1.0"/>
<circle cx="68.3" cy="84.7" r="2.0" fill="#000000" stroke="none"/>
<circle cx="73.8" cy="84.7" r="2.0" fill="#000000" stroke="none"/>
<circle cx="80.3" cy="85.1" r="2.0" fill="#000000" stroke="none"/>
<circle cx="93.0" cy="79.5" r="2.0" fill="#000000" stroke="none"/>
<circle cx="93.0" cy="85.8" r="2.0" fill="#000000" stroke="none"/>
<circle cx="99.3" cy="85.0" r="2.0" fill="#000000" stroke="none"/>
<circle cx="105.6" cy="82.0" r="2.0" fill="#000000" stroke="none"/>
<circle cx="111.8" cy="80.0" r="2.0" fill="#000000" stroke="none"/>
<circle cx="117.9" cy="78.8" r="2.0" fill="#000000" stroke="none"/>
<circle cx="124.3" cy="78.7" r="2.0" fill="#000000" stroke="none"/>
<circle cx="130.4" cy="79.0" r="2.0" fill="#000000" stroke="none"/>
<circle cx="136.7" cy="82.0" r="2.0" fill="#000000" stroke="none"/>
<circle cx="142.2" cy="82.0" r="2.0" fill="#000000" stroke="none"/>
<circle cx="148.5" cy="76.5" r="2.0" fill="#000000" stroke="none"/>
<circle cx="155.4" cy="67.6" r="2.0" fill="#000000" stroke="none"/>
<circle cx="161.5" cy="57.8" r="2.0" fill="#000000" stroke="none"/>
<circle cx="167.9" cy="44.6" r="2.0" fill="#000000" stroke="none"/>
<circle cx="174.2" cy="33.9" r="2.0" fill="#000000" stroke="none"/>
<circle cx="180.3" cy="85.0" r="2.0" fill="#000000" stroke="none"/>
<circle cx="186.8" cy="15.1" r="2.0" fill="#000000" stroke="none"/>
<circle cx="193.0" cy="10.0" r="2.0" fill="#000000" stroke="none"/>
<circle cx="199.3" cy="8.0" r="2.0" fill="#000000" stroke="none"/>
<circle cx="205.4" cy="10.0" r="2.0" fill="#000000" stroke="none"/>
<circle cx="211.6" cy="14.6" r="2.0" fill="#000000" stroke="none"/>
<circle cx="217.4" cy="18.1" r="2.0" fill="#000000" stroke="none"/>
<circle cx="223.8" cy="27.1" r="2.0" fill="#000000" stroke="none"/>
<circle cx="230.2" cy="37.6" r="2.0" fill="#000000" stroke="none"/>
<circle cx="237.0" cy="53.2" r="2.0" fill="#000000" stroke="none"/>
<circle cx="242.7" cy="60.7" r="2.0" fill="#000000" stroke="none"/>
<circle cx="249.0" cy="72.3" r="2.0" fill="#000000" stroke="none"/>
<circle cx="255.3" cy="80.3" r="2.0" fill="#000000" stroke="none"/>
<circle cx="261.6" cy="82.8" r="2.0" fill="#000000" stroke="none"/>
<circle cx="267.8" cy="81.3" r="2.0" fill="#000000" stroke="none"/>
<circle cx="273.7" cy="79.3" r="2.0" fill="#000000" stroke="none"/>
<circle cx="286.2" cy="79.4" r="2.0" fill="#000000" stroke="none"/>
<circle cx="292.8" cy="81.9" r="2.0" fill="#000000" stroke="none"/>
<circle cx="298.7" cy="84.7" r="2.0" fill="#000000" stroke="none"/>
<circle cx="305.0" cy="85.2" r="2.0" fill="#000000" stroke="none"/>
<circle cx="311.3" cy="85.7" r="2.0" fill="#000000" stroke="none"/>
<circle cx="317.6" cy="85.7" r="2.0" fill="#000000" stroke="none"/>
</g>
<rect x="58.7" y="0.7" width="280.5" height="209.20000000000002" fill="none" stroke="#333333" stroke-width="1.5"/>
<path d="M86.50 209.90v-2.8M86.50 0.70v2.8M142.55 209.90v-2.8M142.55 0.70v2.8M198.60 209.90v-2.8M198.60 0.70v2.8M254.65 209.90v-2.8M254.65 0.70v2.8M310.70 209.90v-2.8M310.70 0.70v2.8M58.70 7.92h2.8M339.20 7.92h-2.8M58.70 46.76h2.8M339.20 46.76h-2.8M58.70 85.60h2.8M339.20 85.60h-2.8M58.70 124.44h2.8M339.20 124.44h-2.8M58.70 163.28h2.8M339.20 163.28h-2.8M58.70 202.12h2.8M339.20 202.12h-2.8" stroke="#333333" stroke-width="1.1" fill="none"/>
</svg>
<div class="t yt" style="top:-1.5px">1</div>
<div class="t yt" style="top:37.4px">0.5</div>
<div class="t yt" style="top:76.2px">0</div>
<div class="t yt" style="top:115.0px">-0.5</div>
<div class="t yt" style="top:153.9px">-1</div>
<div class="t yt" style="top:192.7px">-1.5</div>
<div class="t xt" style="left:66.7px;top:216.3px">-2</div>
<div class="t xt" style="left:122.8px;top:216.3px">-1</div>
<div class="t xt" style="left:178.8px;top:216.3px">0</div>
<div class="t xt" style="left:234.8px;top:216.3px">1</div>
<div class="t xt" style="left:290.9px;top:216.3px">2</div>
<div class="t lb" style="left:263px;top:50.1px;color:#000;letter-spacing:1.0px">plain</div>
<div class="t lb" style="left:262.9px;top:98.8px;color:#D95319">1 bar</div>
<div class="t lb" style="left:264.2px;top:126.3px;color:#0072BD">2 bars</div>
<div class="t lb" style="left:264.2px;top:179.3px;color:#77AC30">3 bars</div>
<div class="t" id="xl" style="left:173px;top:237.4px;font-size:18.5px;letter-spacing:1.6px">&Phi;<sub><i>z</i></sub><span class="sl">/</span>&Phi;<sub>0</sub></div>
<div class="t" id="yl" style="left:0;top:0;font-size:18px;transform-origin:0 0;transform:translate(0.5px,156.6px) rotate(-90deg);letter-spacing:1.8px"><i>I</i><sub><i>c</i></sub><span class="pa">(</span>&Phi;<sub><i>z</i></sub><span class="pa">)</span><span class="sl">/</span><i>I</i><sub><i>c</i></sub><span class="pa">(</span>0<span class="pa">)</span></div>
</body></html>
